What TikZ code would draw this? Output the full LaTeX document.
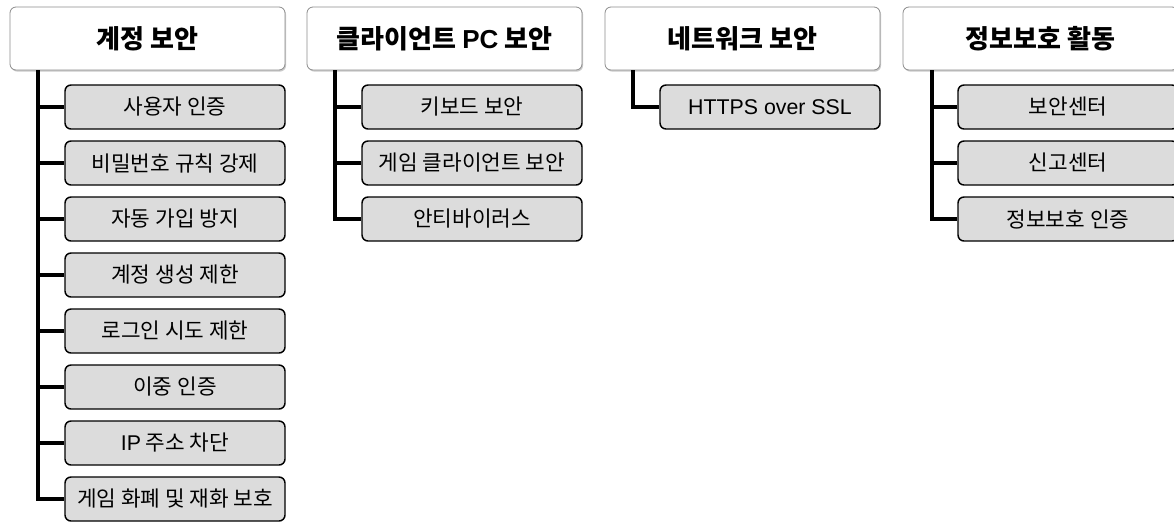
\documentclass[tikz,border=0pt]{standalone}
\usepackage{fontspec}
\setmainfont{Noto Sans CJK KR}
\newfontfamily\latinfont{Liberation Sans}
\newcommand{\lat}[1]{{\latinfont #1}}
\usetikzlibrary{shadows}
\definecolor{childfill}{HTML}{DCDCDC}
\definecolor{headborder}{HTML}{8C8C8C}
\tikzset{
  headbox/.style={draw=headborder, line width=0.6pt, fill=white, rounded corners=4.5pt,
    minimum width=275*0.75pt, minimum height=63*0.75pt, inner sep=0pt,
    font=\fontsize{19.5pt}{22pt}\selectfont\bfseries,
    drop shadow={shadow xshift=0.8pt, shadow yshift=-1.2pt, opacity=0.35, fill=black!60}},
  childbox/.style={draw=black, line width=1.1pt, fill=childfill, rounded corners=4.5pt,
    minimum width=220*0.75pt, minimum height=44*0.75pt, inner sep=0pt,
    font=\fontsize{16pt}{18pt}\selectfont},
  link/.style={draw=black, line width=2.3pt}
}
\begin{document}
\begin{tikzpicture}[x=0.75pt, y=-0.75pt]
\useasboundingbox (0,0) rectangle (1174,522);
% headers
\node[headbox] (h1) at (147.5,38.5) {계정 보안};
\node[headbox] (h2) at (444.5,38.5) {클라이언트 \lat{PC} 보안};
\node[headbox] (h3) at (742.5,38.5) {네트워크 보안};
\node[headbox] (h4) at (1040.5,38.5) {정보보호 활동};
% trunk coordinates
\coordinate (v1) at (38,70);
\coordinate (v2) at (335,70);
\coordinate (v3) at (633,70);
\coordinate (v4) at (932,70);
% children column 1
\node[childbox] (c11) at (175,107) {사용자 인증};
\node[childbox] (c12) at (175,163) {비밀번호 규칙 강제};
\node[childbox] (c13) at (175,219) {자동 가입 방지};
\node[childbox] (c14) at (175,275) {계정 생성 제한};
\node[childbox] (c15) at (175,331) {로그인 시도 제한};
\node[childbox] (c16) at (175,387) {이중 인증};
\node[childbox] (c17) at (175,443) {\lat{IP} 주소 차단};
\node[childbox] (c18) at (175,499) {게임 화폐 및 재화 보호};
% column 2
\node[childbox] (c21) at (472,107) {키보드 보안};
\node[childbox] (c22) at (472,163) {게임 클라이언트 보안};
\node[childbox] (c23) at (472,219) {안티바이러스};
% column 3
\node[childbox] (c31) at (770,107) {\lat{HTTPS over SSL}};
% column 4
\node[childbox] (c41) at (1068,107) {보안센터};
\node[childbox] (c42) at (1068,163) {신고센터};
\node[childbox] (c43) at (1068,219) {정보보호 인증};
% connectors
\foreach \c in {c11,c12,c13,c14,c15,c16,c17,c18} \draw[link] (v1) |- (\c.west);
\foreach \c in {c21,c22,c23} \draw[link] (v2) |- (\c.west);
\draw[link] (v3) |- (c31.west);
\foreach \c in {c41,c42,c43} \draw[link] (v4) |- (\c.west);
\end{tikzpicture}
\end{document}
